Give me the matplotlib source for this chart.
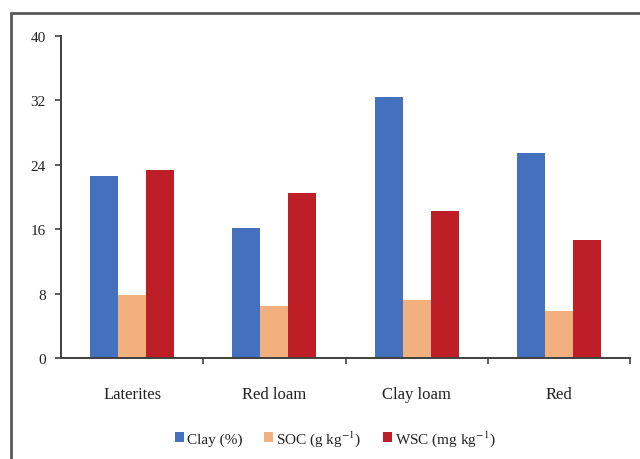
import numpy as np
import matplotlib
matplotlib.use("Agg")
import matplotlib.pyplot as plt
from matplotlib.patches import Rectangle

plt.rcParams['font.family'] = ['Liberation Serif', 'DejaVu Serif']
plt.rcParams['mathtext.fontset'] = 'stix'

soils = ["Laterites", "Red loam", "Clay loam", "Red"]
clay = [22.6, 16.2, 32.4, 25.5]
soc = [7.8, 6.4, 7.2, 5.8]
wsc = [23.3, 20.5, 18.2, 14.6]
series_labels = ["Clay (%)", "SOC (g kg$^{-1}$)", "WSC (mg kg$^{-1}$)"]
series_colors = ["#4570BE", "#F3B07F", "#BE1F27"]
yticks = [0, 8, 16, 24, 32, 40]

fig = plt.figure(figsize=(6.4, 4.6), dpi=100)
fig.patch.set_facecolor("white")

# outer frame of the chart area
fig.add_artist(Rectangle((11 / 640, -0.1), 1.2, 1 - 14 / 460 + 0.1,
                         transform=fig.transFigure, fill=False,
                         edgecolor="#5a5a5a", linewidth=2.0))

ax = fig.add_axes([61 / 640, 1 - 359 / 460, (630 - 61) / 640, (359 - 37) / 460])

x = np.arange(len(soils))
w = 0.197
for i, (vals, lab, col) in enumerate(zip([clay, soc, wsc], series_labels, series_colors)):
    ax.bar(x + (i - 1) * w, vals, width=w, color=col, label=lab, zorder=2)

ax.set_xlim(-0.5, len(soils) - 0.5)
ax.set_ylim(0, 40)
ax.set_yticks(yticks)
ax.set_xticks(x)
ax.set_xticklabels(soils, fontsize=12, color="#222222")
ax.set_xticks(np.arange(len(soils)) + 0.5, minor=True)
ax.tick_params(axis='x', which='major', length=0, pad=20)
ax.tick_params(axis='x', which='minor', length=4, width=1.2, color="#404040")
ax.tick_params(axis='y', length=4, width=1.2, color="#404040", labelsize=11,
               labelcolor="#222222", pad=7)

for s in ["top", "right"]:
    ax.spines[s].set_visible(False)
for s in ["left", "bottom"]:
    ax.spines[s].set_color("#404040")
    ax.spines[s].set_linewidth(1.4)

ax.legend(loc="center", bbox_to_anchor=(335 / 640, 1 - 439 / 460),
          bbox_transform=fig.transFigure, ncol=3, frameon=False,
          fontsize=11, handlelength=0.6, handleheight=0.6,
          handletextpad=0.2, columnspacing=1.4, labelcolor="#222222")

fig.savefig("out.png", dpi=100)
